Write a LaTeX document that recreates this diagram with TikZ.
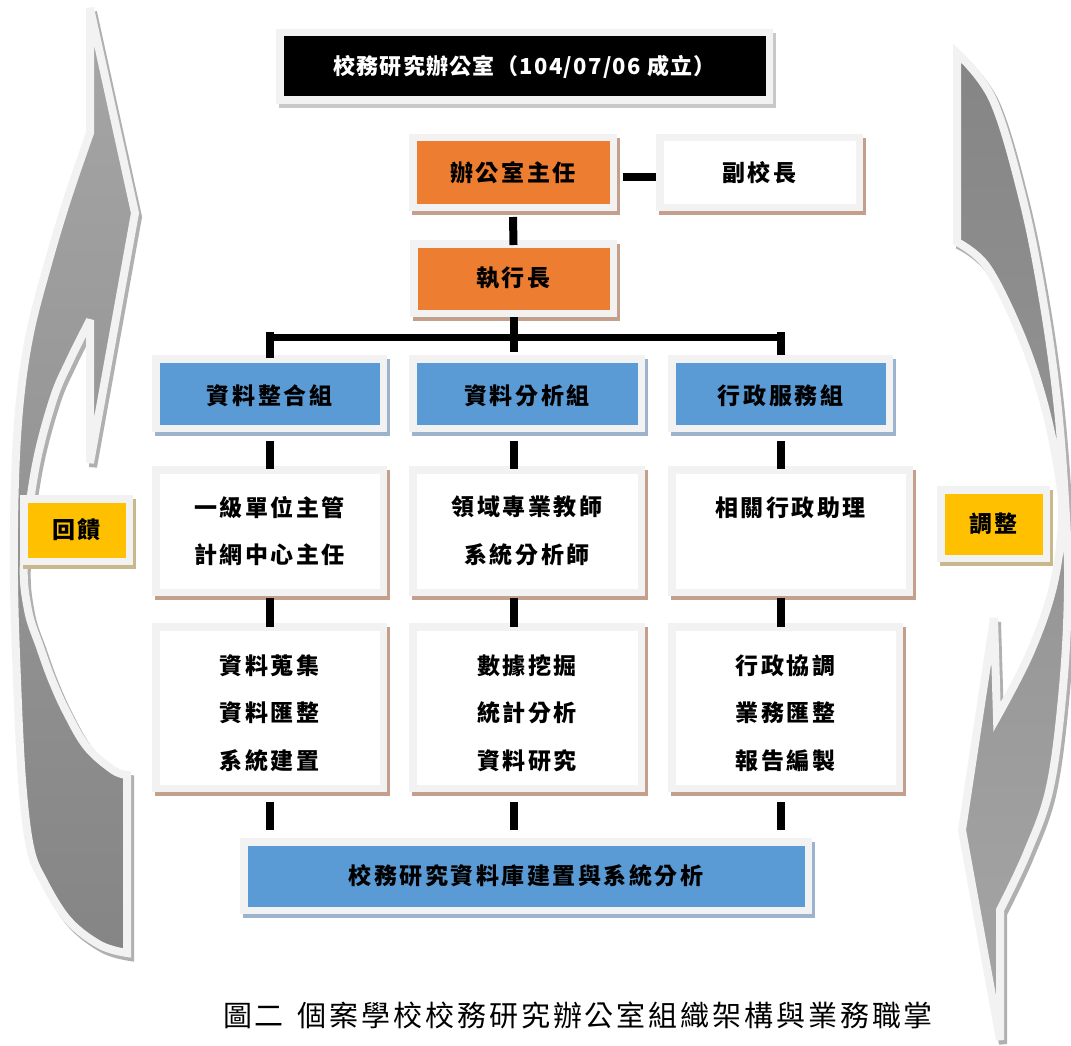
\documentclass[tikz,border=0pt]{standalone}
\usepackage{fontspec}
\newfontfamily\cjk{Noto Sans CJK TC}
\usetikzlibrary{calc}
\definecolor{frame}{HTML}{F2F2F2}
\definecolor{orangeF}{HTML}{ED7D31}
\definecolor{blueF}{HTML}{5B9BD5}
\definecolor{yellowF}{HTML}{FFC000}
\definecolor{tanS}{HTML}{C4A08C}
\definecolor{blueS}{HTML}{9DB2CD}
\definecolor{yelS}{HTML}{C8B88C}
\definecolor{grayS}{HTML}{C8C8C8}
\definecolor{arrS}{HTML}{B0B0B0}
\definecolor{arrLight}{HTML}{A6A6A6}
\definecolor{arrDark}{HTML}{858585}
\newcommand\boxfont{\cjk\bfseries\fontsize{23}{47.5}\selectfont\addfontfeature{LetterSpace=11}}
\newcommand\titlefont{\cjk\bfseries\fontsize{22}{24}\selectfont\addfontfeature{LetterSpace=6}}
\newcommand\capfont{\cjk\fontsize{29}{32}\selectfont\addfontfeature{LetterSpace=10}}
\newcommand\dn{\rule{0pt}{31pt}}
\tikzset{
  box/.style={draw=frame, line width=7.5pt, inner sep=0pt, outer sep=3.75pt, align=center, font=\boxfont},
  shd/.style={preaction={fill=#1, draw=#1, line width=7.5pt, transform canvas={shift={(3pt,-4pt)}}}},
  obox/.style={box, fill=orangeF, shd=tanS},
  wbox/.style={box, fill=white, shd=tanS},
  bbox/.style={box, fill=blueF, shd=blueS},
  ybox/.style={box, fill=yellowF, shd=yelS},
  kbox/.style={box, fill=black, shd=grayS, text=white, font=\titlefont},
  conn/.style={draw=black, line width=8pt},
  hbar/.style={draw=black, line width=7pt},
  arrowfill/.style={draw=frame, line width=8pt, line join=miter, miter limit=4},
  arrowshadow/.style={fill=arrS, draw=arrS, line width=8pt, line join=miter, miter limit=4, shift={(3,4)}}
}
\newcommand\bx[7]{\node[#6, minimum width={(#4-#2-7.5)*1pt}, minimum height={(#5-#3-7.5)*1pt}] (#1) at ({(#2+#4)/2},{(#3+#5)/2}) {#7};}
\def\leftarrowpath{(127,775) -- (127,953) -- plot[smooth, tension=0.6] coordinates {(127,953) (100,945) (68,920) (43,880) (30,847) (22,780) (17,680) (14,580) (15,480) (20,400) (30,333) (47,267) (67,200) (90,133)} -- (90,8) -- (135,213) -- (90,463) -- (90,320) -- plot[smooth, tension=0.6] coordinates {(90,320) (70,360) (53,400) (35,470) (24,560) (28,610) (40,647) (52,680) (67,713) (87,747) (113,770) (127,775)} -- cycle}
\def\rightarrowpath{(957,242) -- (957,53) -- plot[smooth, tension=0.6] coordinates {(957,53) (993,100) (1023,200) (1043,300) (1057,400) (1065,500) (1068,587) (1063,687) (1050,787) (1027,853) (1000,910)} -- (1000,1040) -- (962,830) -- (994,618) -- (997,717) -- plot[smooth, tension=0.6] coordinates {(997,717) (1030,653) (1053,587) (1062,520) (1058,470) (1043,400) (1020,333) (987,267) (957,242)} -- cycle}
\begin{document}
\begin{tikzpicture}[x=1pt, y=-1pt]
\useasboundingbox (0,0) rectangle (1071,1046);
% feedback arrows
\path[arrowshadow] \leftarrowpath;
\path[arrowfill, top color=arrLight, bottom color=arrDark] \leftarrowpath;
\path[arrowshadow] \rightarrowpath;
\path[arrowfill, top color=arrDark, bottom color=arrLight] \rightarrowpath;
% boxes
\bx{title}{276}{29}{773}{104}{kbox}{校務研究辦公室（104/07/06 成立）}
\bx{dir}{409}{134}{617}{211}{obox}{辦公室主任}
\bx{vp}{656}{134}{863}{211}{wbox}{副校長}
\bx{ceo}{410}{240}{617}{317}{obox}{執行長}
\bx{g1}{152}{355}{387}{432}{bbox}{\rule{0pt}{24pt}資料整合組}
\bx{g2}{409}{355}{645}{432}{bbox}{\rule{0pt}{24pt}資料分析組}
\bx{g3}{668}{355}{893}{432}{bbox}{\rule{0pt}{24pt}行政服務組}
\bx{p1}{152}{466}{387}{596}{wbox}{一級單位主管\\計網中心主任}
\bx{p2}{409}{466}{645}{596}{wbox}{領域專業教師\\系統分析師}
\bx{p3}{668}{466}{913}{596}{wbox}{相關行政助理\\\phantom{相}}
\bx{t1}{152}{623}{387}{792}{wbox}{\dn 資料蒐集\\資料匯整\\系統建置}
\bx{t2}{409}{623}{645}{792}{wbox}{\dn 數據挖掘\\統計分析\\資料研究}
\bx{t3}{668}{623}{903}{792}{wbox}{\dn 行政協調\\業務匯整\\報告編製}
\bx{db}{240}{838}{812}{914}{bbox}{校務研究資料庫建置與系統分析}
\bx{fb}{20}{495}{133}{565}{ybox}{回饋}
\bx{adj}{937}{486}{1050}{562}{ybox}{調整}
% connectors
\draw[conn] ($(dir.east)+(6,4)$) -- ($(vp.west)+(0,4)$);
\draw[conn] ($(dir.south)+(0,6)$) -- ($(ceo.north)+(0,5)$);
\coordinate (hb) at ($(ceo.south)+(0,20)$);
\draw[conn] (ceo.south) -- ($(ceo.south |- g2.north)+(0,-3)$);
\draw[hbar] (g1.north |- hb) -- (g3.north |- hb);
\draw[conn] ($(g1.north |- hb)+(0,-5)$) -- ($(g1.north)+(0,3)$);
\draw[conn] ($(g3.north |- hb)+(0,-5)$) -- ($(g3.north)+(0,0)$);
\draw[conn] ($(g1.south)+(0,9)$) -- ($(g1.south |- p1.north)+(0,3)$);
\draw[conn] ($(g2.south -| ceo.south)+(0,9)$) -- ($(p2.north -| ceo.south)+(0,3)$);
\draw[conn] ($(g3.south)+(0,9)$) -- ($(p3.north -| g3.south)+(0,3)$);
\draw[conn] ($(p1.south -| g1.south)+(0,2)$) -- ($(t1.north -| g1.south)+(0,4)$);
\draw[conn] ($(p2.south -| ceo.south)+(0,2)$) -- ($(t2.north -| ceo.south)+(0,4)$);
\draw[conn] ($(p3.south -| g3.south)+(0,2)$) -- ($(t3.north -| g3.south)+(0,4)$);
\draw[conn] ($(t1.south -| g1.south)+(0,10)$) -- ($(db.north -| g1.south)+(0,-8)$);
\draw[conn] ($(t2.south -| ceo.south)+(0,10)$) -- ($(db.north -| ceo.south)+(0,-8)$);
\draw[conn] ($(t3.south -| g3.south)+(0,10)$) -- ($(db.north -| g3.south)+(0,-8)$);
% caption
\node[font=\capfont, inner sep=0pt] (cap) at (578,1015) {圖二\hspace{14pt}個案學校校務研究辦公室組織架構與業務職掌};
\end{tikzpicture}
\end{document}
